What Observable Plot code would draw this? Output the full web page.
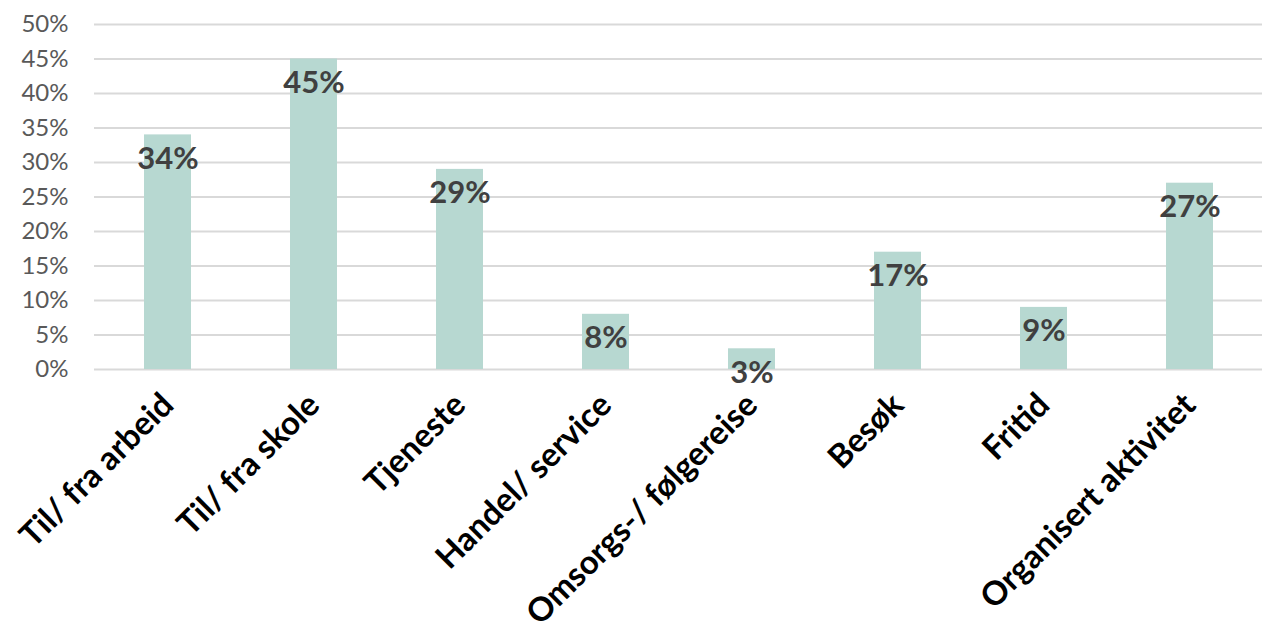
<!DOCTYPE html>
<html><head><meta charset="utf-8">
<script src="https://cdn.jsdelivr.net/npm/d3@7"></script>
<script src="https://cdn.jsdelivr.net/npm/@observablehq/plot@0.6"></script>
<style>html,body{margin:0;padding:0;background:#fff;} svg{display:block;}</style>
</head><body><div id="chart"></div>
<script>
const categories = ["Til/ fra arbeid","Til/ fra skole","Tjeneste","Handel/ service","Omsorgs-/ følgereise","Besøk","Fritid","Organisert aktivitet"];
const values = [0.34, 0.45, 0.29, 0.08, 0.03, 0.17, 0.09, 0.27];
const yTicks = [0,0.05,0.10,0.15,0.20,0.25,0.30,0.35,0.40,0.45,0.50];
const data = categories.map((c,i)=>({category:c, value:values[i]}));
const pct = d3.format(".0%");
const chart = Plot.plot({
  width: 1268, height: 636,
  marginLeft: 94, marginRight: 6, marginTop: 24, marginBottom: 267,
  style: {fontFamily: "Lato, sans-serif", background: "#fff"},
  x: {domain: categories, paddingInner: 0.68, paddingOuter: 0.34, align: 0.5},
  y: {domain: [0, 0.5], axis: null},
  marks: [
    Plot.gridY(yTicks, {stroke: "#d9d9d9", strokeOpacity: 1, strokeWidth: 2}),
    Plot.text(yTicks, {y: d => d, text: d => pct(d), frameAnchor: "left", textAnchor: "end", dx: -26, fontSize: 24, fill: "#595959"}),
    Plot.barY(data, {x: "category", y: "value", fill: "#b7d8d1"}),
    Plot.text(data, {x: "category", y: "value", text: d => pct(d.value), dy: 24, fontSize: 31, fontWeight: "bold", fill: "#404040"}),
    Plot.axisX({tickSize: 0, tickRotate: -45, tickPadding: 30, fontSize: 33, fontWeight: "bold", fill: "#000", label: null})
  ]
});
document.getElementById("chart").appendChild(chart);
</script></body></html>
